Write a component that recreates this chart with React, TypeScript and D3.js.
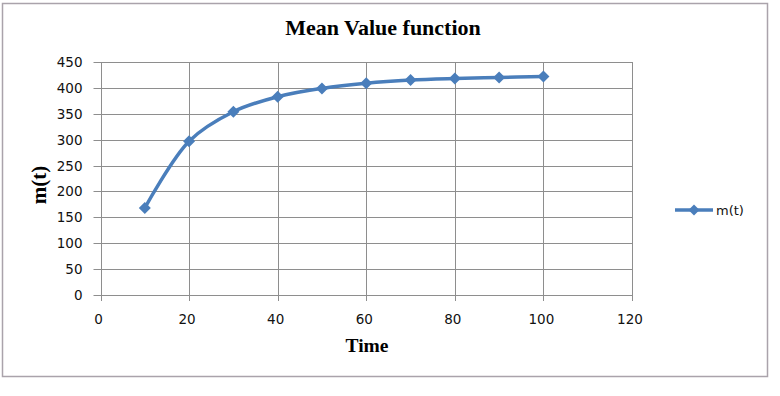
import * as d3 from 'd3';

const times = [10, 20, 30, 40, 50, 60, 70, 80, 90, 100];
const meanValues = [168, 297, 354, 383, 399, 409, 415, 418, 420, 422];
const xTicks = [0, 20, 40, 60, 80, 100, 120];
const yTicks = [0, 50, 100, 150, 200, 250, 300, 350, 400, 450];
const seriesName = 'm(t)';

const W = 780;
const H = 396;
const LINE = '#4a7ebb';
const GRID = '#8e8e8e';
const TICK_FONT = 'Verdana, "DejaVu Sans", sans-serif';
const LABEL_FONT = '"Liberation Serif", "Times New Roman", serif';

function diamond(cx: number, cy: number, r: number) {
    return `M${cx},${cy - r}L${cx + r},${cy}L${cx},${cy + r}L${cx - r},${cy}Z`;
}

export default function App() {
    const margin = { top: 62, right: 148, bottom: 101, left: 100.5 };
    const x = d3.scaleLinear().domain([0, 120]).range([margin.left, W - margin.right]);
    const y = d3.scaleLinear().domain([0, 450]).range([H - margin.bottom, margin.top]);

    const pts = times.map((t, i) => [x(t), y(meanValues[i])] as [number, number]);
    const line = d3.line().curve(d3.curveCatmullRom.alpha(0.5));

    const legendY = 210;

    return (
        <svg width={W} height={H} style={{ position: 'absolute', left: 0, top: 0 }}>
            <rect x={0} y={0} width={W} height={H} fill="#fff" />
            <rect x={2.5} y={3.5} width={765} height={373} fill="#fff" stroke="#aaa3ab" strokeWidth={1.5} />

            <text x={383} y={35} textAnchor="middle" fontFamily={LABEL_FONT} fontWeight="bold" fontSize={22}>
                Mean Value function
            </text>

            {/* grid */}
            {yTicks.map(v => (
                <line key={'h' + v} x1={x(0) - 7} x2={x(120)} y1={Math.round(y(v)) + 0.5} y2={Math.round(y(v)) + 0.5}
                    stroke={GRID} strokeWidth={1} />
            ))}
            {xTicks.map(v => (
                <line key={'v' + v} x1={Math.round(x(v)) + 0.5} x2={Math.round(x(v)) + 0.5} y1={y(450)} y2={y(0) + 6}
                    stroke={GRID} strokeWidth={1} />
            ))}

            {/* tick labels */}
            {yTicks.map(v => (
                <text key={'yl' + v} x={x(0) - 18} y={y(v) + 5} textAnchor="end" fontFamily={TICK_FONT} fontSize={13.5} fill="#111">
                    {v}
                </text>
            ))}
            {xTicks.map(v => (
                <text key={'xl' + v} x={x(v) - 2} y={y(0) + 29} textAnchor="middle" fontFamily={TICK_FONT} fontSize={13.5} fill="#111">
                    {v}
                </text>
            ))}

            {/* axis titles */}
            <text transform="translate(46,185) rotate(-90)" textAnchor="middle"
                fontFamily={LABEL_FONT} fontWeight="bold" fontSize={21}>
                m(t)
            </text>
            <text x={367} y={352} textAnchor="middle" fontFamily={LABEL_FONT} fontWeight="bold" fontSize={19.5}>
                Time
            </text>

            {/* series */}
            <path d={line(pts) ?? ''} fill="none" stroke={LINE} strokeWidth={3.5} strokeLinejoin="round" />
            {pts.map(([px, py], i) => (
                <path key={'m' + i} d={diamond(px, py, 6)} fill={LINE} />
            ))}

            {/* legend */}
            <line x1={675} x2={713} y1={legendY} y2={legendY} stroke={LINE} strokeWidth={3.5} />
            <path d={diamond(694, legendY, 5.5)} fill={LINE} />
            <text x={716} y={legendY + 5} fontFamily={TICK_FONT} fontSize={13} fill="#111">
                {seriesName}
            </text>
        </svg>
    );
}
